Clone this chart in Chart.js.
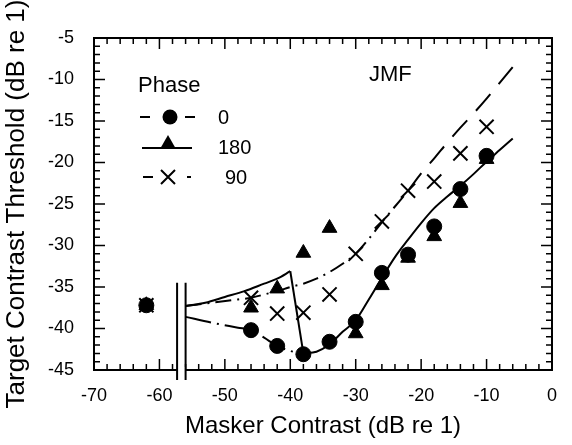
<!DOCTYPE html>
<html>
<head>
<meta charset="utf-8">
<script src="https://cdn.jsdelivr.net/npm/chart.js@4"></script>
<style>
  html, body { margin: 0; padding: 0; background: #fff; }
  #wrap { width: 572px; height: 445px; position: relative; }
</style>
</head>
<body>
<div id="wrap"><canvas id="jmf"></canvas></div>
<script>
// donnees
const pointX   = [-62, -46, -42, -38, -34, -30, -26, -22, -18, -14, -10];
const phase0   = [-37.2, -40.2, -42.1, -43.1, -41.6, -39.2, -33.3, -31.1, -27.7, -23.2, -19.2];
const phase180 = [-37.2, -37.5, -35.2, -30.9, -27.9, -40.6, -34.8, -31.5, -28.9, -24.9, -19.6];
const phase90  = [-37.2, -36.3, -38.2, -38.1, -35.9, -31.0, -27.1, -23.4, -22.3, -18.9, -15.7];

// courbes du modele
const riseX  = [-56, -53, -50, -47, -44, -42, -40];
const riseY  = [-37.3, -36.9, -36.2, -35.5, -34.6, -34.0, -33.1];
const dropX  = [-40, -38];
const dropY  = [-33.1, -43.0];
const rightX = [-38, -36, -34, -32, -30, -28, -26, -24, -22, -20, -18, -16, -14, -12, -10, -8, -6];
const rightY = [-43.0, -42.8, -41.9, -40.4, -39.0, -36.5, -33.9, -31.4, -29.3, -27.3, -25.5, -24.1, -22.8, -21.4, -19.9, -18.5, -17.1];
const upperX = [-56, -52, -48, -46, -44, -42, -40, -38, -36, -34, -32, -30, -28, -26, -24, -22, -20, -18, -16, -14, -12, -10, -8, -6];
const upperY = [-37.3, -36.9, -36.5, -36.3, -35.9, -35.5, -35.0, -34.6, -34.0, -33.2, -32.2, -31.0, -29.2, -27.2, -25.3, -23.4, -21.3, -19.5, -17.6, -15.8, -14.1, -12.3, -10.4, -8.5];
const lowerX = [-56, -52, -48, -46, -44, -42, -40, -38];
const lowerY = [-38.6, -39.3, -39.9, -40.2, -41.1, -42.1, -42.7, -43.1];

const xTicks = [-70, -60, -50, -40, -30, -20, -10, 0];
const yTicks = [-45, -40, -35, -30, -25, -20, -15, -10, -5];
const breakX = [-57.3, -56.0];
const breakTop = -34.5;

const FONT = "'Liberation Sans', Arial, Helvetica, sans-serif";

function pts(xs, ys) {
    return xs.map((v, i) => ({ x: v, y: ys[i] }));
}

function courbe(label, xs, ys, extra) {
    return Object.assign({
        label: label,
        data: pts(xs, ys),
        showLine: true,
        borderColor: '#000',
        borderWidth: 2,
        pointRadius: 0,
        cubicInterpolationMode: 'monotone'
    }, extra || {});
}

// cadre, graduations internes, coupure d'axe, legende
const cadre = {
    id: 'cadre',
    afterDraw(chart) {
        const { ctx, chartArea: a, scales } = chart;
        const sx = scales.x, sy = scales.y;
        ctx.save();
        ctx.strokeStyle = '#000';
        ctx.lineWidth = 1.5;
        ctx.beginPath();
        for (let v = -70; v <= 0; v += 2) {
            const px = sx.getPixelForValue(v);
            const len = v % 10 === 0 ? 11 : 6;
            ctx.moveTo(px, a.bottom); ctx.lineTo(px, a.bottom - len);
            ctx.moveTo(px, a.top); ctx.lineTo(px, a.top + len);
        }
        for (let v = -45; v <= -5; v += 1) {
            const py = sy.getPixelForValue(v);
            const len = v % 5 === 0 ? 11 : 6;
            ctx.moveTo(a.left, py); ctx.lineTo(a.left + len, py);
            ctx.moveTo(a.right, py); ctx.lineTo(a.right - len, py);
        }
        ctx.stroke();

        ctx.lineWidth = 2;
        ctx.strokeRect(a.left, a.top, a.right - a.left, a.bottom - a.top);

        // coupure
        const b1 = sx.getPixelForValue(breakX[0]);
        const b2 = sx.getPixelForValue(breakX[1]);
        ctx.fillStyle = '#fff';
        ctx.fillRect(b1, a.bottom - 3, b2 - b1, 6);
        const bt = sy.getPixelForValue(breakTop);
        ctx.beginPath();
        ctx.moveTo(b1, bt); ctx.lineTo(b1, a.bottom + 10);
        ctx.moveTo(b2, bt); ctx.lineTo(b2, a.bottom + 10);
        ctx.stroke();

        // legende
        ctx.fillStyle = '#000';
        ctx.textBaseline = 'alphabetic';
        ctx.font = '22px ' + FONT;
        ctx.fillText('Phase', 138, 92);
        ctx.fillText('JMF', 369, 81);

        ctx.font = '20px ' + FONT;
        ctx.lineWidth = 2;
        // 0
        ctx.beginPath();
        ctx.moveTo(140, 117); ctx.lineTo(150, 117);
        ctx.moveTo(185, 117); ctx.lineTo(195, 117);
        ctx.stroke();
        ctx.beginPath(); ctx.arc(170, 117, 7.5, 0, Math.PI * 2); ctx.fill();
        ctx.fillText('0', 218, 124);
        // 180
        ctx.beginPath();
        ctx.moveTo(142, 148); ctx.lineTo(192, 148);
        ctx.stroke();
        ctx.beginPath();
        ctx.moveTo(168, 135); ctx.lineTo(176, 149); ctx.lineTo(160, 149); ctx.closePath();
        ctx.fill();
        ctx.fillText('180', 218, 154);
        // 90
        ctx.beginPath();
        ctx.moveTo(143, 177); ctx.lineTo(153, 177);
        ctx.moveTo(187, 177); ctx.lineTo(191, 177);
        ctx.moveTo(161, 170); ctx.lineTo(175, 184);
        ctx.moveTo(175, 170); ctx.lineTo(161, 184);
        ctx.stroke();
        ctx.fillText('90', 225, 184);
        ctx.restore();
    }
};

document.addEventListener('DOMContentLoaded', () => {
    const ctx = document.getElementById('jmf').getContext('2d');

    new Chart(ctx, {
        type: 'scatter',
        data: {
            datasets: [
                courbe('180 montee', riseX, riseY),
                courbe('180 chute', dropX, dropY, { cubicInterpolationMode: 'default', tension: 0 }),
                courbe('180 droite', rightX, rightY),
                courbe('modele haut', upperX, upperY, {
                    segment: {
                        // tiret-point en bas, tirets longs en haut
                        borderDash: c => c.p0.parsed.x >= -22 ? [22, 13] : [16, 6, 2, 6]
                    }
                }),
                courbe('modele bas', lowerX, lowerY, { borderDash: [26, 6, 2, 6] }),
                {
                    label: '0',
                    data: pts(pointX, phase0),
                    pointStyle: 'circle',
                    pointRadius: 7.5,
                    backgroundColor: '#000',
                    borderColor: '#000',
                    borderWidth: 1
                },
                {
                    label: '180',
                    data: pts(pointX, phase180),
                    pointStyle: 'triangle',
                    pointRadius: 8.5,
                    backgroundColor: '#000',
                    borderColor: '#000',
                    borderWidth: 1
                },
                {
                    label: '90',
                    data: pts(pointX, phase90),
                    pointStyle: 'crossRot',
                    pointRadius: 10,
                    backgroundColor: '#000',
                    borderColor: '#000',
                    borderWidth: 2
                }
            ]
        },
        options: {
            responsive: true,
            maintainAspectRatio: false,
            animation: false,
            layout: { padding: { top: 38, right: 10, left: 0, bottom: 0 } },
            plugins: {
                legend: { display: false },
                tooltip: { enabled: false }
            },
            scales: {
                x: {
                    type: 'linear',
                    min: -70,
                    max: 0,
                    afterBuildTicks: s => { s.ticks = xTicks.map(v => ({ value: v })); },
                    afterFit: s => { s.height = 75; },
                    grid: { display: false, drawTicks: false },
                    border: { display: false },
                    ticks: {
                        color: '#000',
                        padding: 15,
                        font: { family: FONT, size: 18 }
                    },
                    title: {
                        display: true,
                        text: 'Masker Contrast (dB re 1)',
                        color: '#000',
                        font: { family: FONT, size: 24 },
                        padding: { top: 0, bottom: 4 }
                    }
                },
                y: {
                    type: 'linear',
                    min: -45,
                    max: -5,
                    afterBuildTicks: s => { s.ticks = yTicks.map(v => ({ value: v })); },
                    afterFit: s => { s.width = 94; },
                    grid: { display: false, drawTicks: false },
                    border: { display: false },
                    ticks: {
                        color: '#000',
                        padding: 20,
                        font: { family: FONT, size: 18 }
                    },
                    title: {
                        display: true,
                        text: 'Target Contrast Threshold (dB re 1)',
                        color: '#000',
                        font: { family: FONT, size: 26 },
                        padding: { top: 1, bottom: 0 }
                    }
                }
            }
        },
        plugins: [cadre]
    });
});
</script>
</body>
</html>
